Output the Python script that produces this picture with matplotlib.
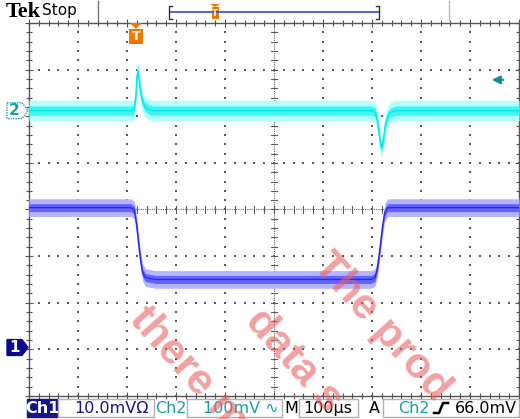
import matplotlib
matplotlib.use("Agg")
import matplotlib.pyplot as plt
from matplotlib.lines import Line2D
from matplotlib.patches import Rectangle, Polygon
import matplotlib.transforms as mtransforms

# ---------------- data ----------------
time_per_div_us = 100.0
t_left_us = -218.0           # left edge of the graticule relative to trigger
n_xdiv, n_ydiv = 10, 8

ch1_scale_mv = 10.0          # mV/div
ch1_pos_div = -2.96
ch1_t = [-218, -10, -3, 2, 6, 10, 14, 20, 40, 480, 488, 493, 498, 503, 508, 514, 530, 782]
ch1_mv = [30, 30, 29.5, 26, 22, 18.5, 16, 15.0, 14.6, 14.6, 15.0, 17, 21, 25.5, 29, 30, 30, 30]
ch1_noise_mv = 1.9

ch2_scale_mv = 100.0         # mV/div
ch2_pos_div = 2.12
ch2_t = [-218, -4, 0, 2, 4, 6, 9, 13, 18, 25, 35, 480, 488, 493, 497, 501, 505, 509, 514, 520, 530, 782]
ch2_mv = [0, 0, 30, 70, 85, 72, 45, 22, 9, 3, 0, 0, -3, -20, -55, -80, -65, -32, -12, -4, 0, 0]
ch2_noise_mv = 22.0

trigger_level_mv = 66.0

status_texts = ["Ch1", "10.0mVΩ", "Ch2", "100mV ∿", "M", "100µs", "A", "Ch2", "66.0mV"]
watermark = ["there m", "data s", "The prod"]

# ---------------- figure ----------------
W, H = 520, 419
fig = plt.figure(figsize=(W / 100, H / 100), dpi=100)
fig.patch.set_facecolor("white")

def fx(x):
    return x / W

def fy(y):
    return 1 - y / H

gx0, gx1, gy0, gy1 = 29, 519, 23, 396
ax = fig.add_axes([fx(gx0), fy(gy1), (gx1 - gx0) / W, (gy1 - gy0) / H])
ax.set_xlim(t_left_us, t_left_us + n_xdiv * time_per_div_us)
ax.set_ylim(-n_ydiv / 2, n_ydiv / 2)
ax.set_facecolor("white")

# graticule
grid_col = "#5a5a5a"
xmaj = [t_left_us + k * time_per_div_us for k in range(n_xdiv + 1)]
ymaj = [j - n_ydiv / 2 for j in range(n_ydiv + 1)]
xmin_ = [t_left_us + k * time_per_div_us / 5 for k in range(n_xdiv * 5 + 1)]
ymin_ = [j / 5 - n_ydiv / 2 for j in range(n_ydiv * 5 + 1)]
dots_x, dots_y = [], []
for k in range(1, n_xdiv):
    if k == n_xdiv // 2:
        continue
    for yy in ymin_:
        dots_x.append(xmaj[k]); dots_y.append(yy)
for j in range(1, n_ydiv):
    if j == n_ydiv // 2:
        continue
    for xx in xmin_:
        dots_x.append(xx); dots_y.append(ymaj[j])
ax.scatter(dots_x, dots_y, s=1.2, c=grid_col, marker="s", linewidths=0, zorder=1)

xc = xmaj[n_xdiv // 2]
ax.axvline(xc, color="#666666", lw=0.8, ls=(0, (1, 1)), zorder=1)
ax.axhline(0, color="#666666", lw=0.8, ls=(0, (1, 1)), zorder=1)
tick_dx = 3 / 49 * time_per_div_us
tick_dy = 3 / 46.6
for yy in ymin_:
    ax.plot([xc - tick_dx, xc + tick_dx], [yy, yy], color=grid_col, lw=0.8, zorder=1)
for xx in xmin_:
    ax.plot([xx, xx], [-tick_dy, tick_dy], color=grid_col, lw=0.8, zorder=1)

ax.set_xticks(xmaj)
ax.set_yticks(ymaj)
ax.set_xticks(xmin_, minor=True)
ax.set_yticks(ymin_, minor=True)
ax.tick_params(which="both", direction="inout", top=True, right=True,
               labelbottom=False, labelleft=False, color="#555555")
ax.tick_params(which="major", length=6, width=0.8)
ax.tick_params(which="minor", length=4, width=0.8)
for s in ax.spines.values():
    s.set_color("#555555")
    s.set_linewidth(1.0)

# ---------------- traces ----------------
def trace(t, mv, scale, pos, noise, c_out, c_mid, c_core):
    y = [pos + v / scale for v in mv]
    lo = [v - noise / scale for v in y]
    hi = [v + noise / scale for v in y]
    lo2 = [v - 0.45 * noise / scale for v in y]
    hi2 = [v + 0.45 * noise / scale for v in y]
    ax.fill_between(t, lo, hi, color=c_out, lw=0, zorder=3)
    ax.fill_between(t, lo2, hi2, color=c_mid, lw=0, zorder=4)
    ax.plot(t, y, color=c_core, lw=1.0, zorder=5)

trace(ch2_t, ch2_mv, ch2_scale_mv, ch2_pos_div, ch2_noise_mv,
      "#b0ffff", "#40f4f4", "#00e8e8")
trace(ch1_t, ch1_mv, ch1_scale_mv, ch1_pos_div, ch1_noise_mv,
      "#b4b4ff", "#6464ff", "#2828f0")

# ---------------- channel markers ----------------
blend = mtransforms.blended_transform_factory(fig.transFigure, ax.transData)
teal = "#1aa0a0"

def marker_shape(ypos, face, edge, txtcol, label, ls):
    hh = 0.17
    pts = [(fx(7), ypos + hh), (fx(22), ypos + hh), (fx(28), ypos),
           (fx(22), ypos - hh), (fx(7), ypos - hh)]
    p = Polygon(pts, closed=True, transform=blend, facecolor=face,
                edgecolor=edge, lw=1.0, ls=ls, clip_on=False, zorder=10)
    fig.add_artist(p)
    fig.text(fx(14.5), ypos, label, transform=blend, color=txtcol, fontsize=11,
             fontweight="bold", ha="center", va="center", zorder=12)

marker_shape(ch2_pos_div, "white", teal, teal, "2", (0, (1, 0.8)))
marker_shape(ch1_pos_div, "#0a0a8a", "#0a0a8a", "white", "1", "-")

# trigger level arrow (right)
ytl = ch2_pos_div + trigger_level_mv / ch2_scale_mv
ax.annotate("", xy=(fx(489), ytl), xytext=(fx(506), ytl), xycoords=blend, textcoords=blend,
            arrowprops=dict(arrowstyle="-|>", color="#109090", lw=1.6, mutation_scale=12),
            annotation_clip=False, zorder=10)

# trigger position marker (top)
bt = mtransforms.blended_transform_factory(ax.transData, fig.transFigure)
tri = Polygon([(-12, fy(23)), (12, fy(23)), (0, fy(29))], closed=True, transform=bt,
              facecolor="#f07800", edgecolor="none", clip_on=False, zorder=10)
fig.add_artist(tri)
fig.add_artist(Rectangle((-14, fy(44)), 28, (44 - 29) / H, transform=bt,
                         facecolor="#f07800", edgecolor="none", zorder=10))
fig.text(0, fy(36.5), "T", transform=bt, color="white", fontsize=9, fontweight="bold",
         ha="center", va="center", zorder=11)

# ---------------- header ----------------
fig.text(fx(6), fy(12), "Tek", fontsize=16, fontweight="bold", family="Liberation Serif",
         ha="left", va="center")
fig.text(fx(42), fy(11), "Stop", fontsize=11, family="DejaVu Sans", ha="left", va="center")
fig.add_artist(Line2D([fx(98), fx(98)], [fy(1), fy(20)], color="#777777", lw=1))
fig.add_artist(Line2D([fx(449), fx(449)], [fy(1), fy(20)], color="#bbbbbb", lw=1))
fig.add_artist(Line2D([fx(170), fx(379)], [fy(12), fy(12)], color="#4858c8", lw=1.3))
fig.add_artist(Line2D([fx(172), fx(169), fx(169), fx(172)], [fy(6), fy(6), fy(19), fy(19)],
                      color="#333333", lw=1))
fig.add_artist(Line2D([fx(376), fx(379), fx(379), fx(376)], [fy(6), fy(6), fy(19), fy(19)],
                      color="#333333", lw=1))
fig.add_artist(Polygon([(fx(210), fy(4)), (fx(220), fy(4)), (fx(215), fy(7))], closed=True,
                       facecolor="#f07800", edgecolor="none"))
fig.add_artist(Rectangle((fx(211.5), fy(19)), 7 / W, 12 / H, facecolor="#f07800", edgecolor="none"))
fig.text(fx(215), fy(13), "T", color="white", fontsize=6, fontweight="bold", ha="center", va="center")

# ---------------- status bar ----------------
navy = "#14148c"
def box(x0, x1, y0=399, y1=417, face="white", edge="#b0b0b0"):
    fig.add_artist(Rectangle((fx(x0), fy(y1)), (x1 - x0) / W, (y1 - y0) / H,
                             facecolor=face, edgecolor=edge, lw=1))

fs = 11.5
box(27, 57, face=navy, edge=navy)
fig.text(fx(42), fy(408), status_texts[0], color="white", fontsize=fs, fontweight="bold",
         ha="center", va="center")
box(58, 154)
fig.text(fx(74), fy(408), status_texts[1], color=navy, fontsize=fs, ha="left", va="center")
fig.text(fx(171), fy(408), status_texts[2], color=teal, fontsize=fs, ha="center", va="center")
box(187, 282)
fig.text(fx(203), fy(408), status_texts[3], color=teal, fontsize=fs, ha="left", va="center")
fig.text(fx(291), fy(408), status_texts[4], color="black", fontsize=fs, ha="center", va="center")
box(299, 358)
fig.text(fx(303), fy(408), status_texts[5], color="black", fontsize=fs, ha="left", va="center")
fig.text(fx(374), fy(408), status_texts[6], color="black", fontsize=fs, ha="center", va="center")
box(383, 519)
fig.text(fx(398), fy(408), status_texts[7], color=teal, fontsize=fs, ha="left", va="center")
fig.add_artist(Line2D([fx(434), fx(439), fx(443), fx(448)], [fy(413), fy(413), fy(403), fy(403)],
                      color="black", lw=1.8))
fig.text(fx(455), fy(408), status_texts[8], color="black", fontsize=fs, ha="left", va="center")

# ---------------- watermark ----------------
wm_pos = [(128, 320), (244, 322), (312, 266)]
for txt, (x, y) in zip(watermark, wm_pos):
    fig.text(fx(x), fy(y), txt, fontsize=31, fontweight="bold", family="Liberation Sans",
             color="#ea6262", alpha=0.6, rotation=-48, rotation_mode="anchor",
             ha="left", va="baseline", zorder=20)

fig.savefig("out.png", dpi=100, facecolor="white")
